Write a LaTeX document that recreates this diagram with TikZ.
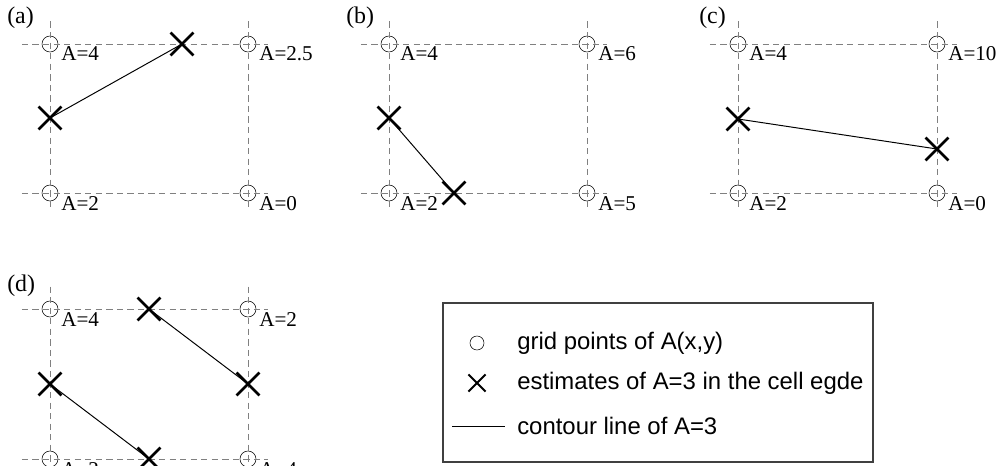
\documentclass[tikz,border=0pt]{standalone}
\usepackage{fontspec}
\setmainfont{Liberation Serif}
\newfontfamily\legendfont{Liberation Sans}
\usetikzlibrary{shapes.misc,positioning}

\begin{document}
\begin{tikzpicture}[
  x=0.025cm, y=-0.025cm,
  gpt/.style={circle, draw, thin, minimum size=0.4cm, inner sep=0pt},
  est/.style={cross out, draw, line width=2pt, minimum size=0.5cm, inner sep=0pt},
  gridline/.style={dashed, dash pattern=on 4.5pt off 3pt, black!50, line width=0.6pt},
  contour/.style={black, line width=0.7pt},
  val/.style={inner sep=0pt, anchor=base west, font=\fontsize{15}{17}\selectfont},
  panel/.style={inner sep=0pt, anchor=base west, font=\fontsize{17}{20}\selectfont},
  legtxt/.style={inner sep=0pt, anchor=west, font=\legendfont\fontsize{17}{20}\selectfont},
  legbox/.style={draw=black!75, line width=0.8pt}
]
\useasboundingbox (0,0) rectangle (1001,466);

% (a)
\node[panel] (la) at (7,24) {(a)};
\node[gpt] (a1) at (50,44)  {};
\node[gpt] (a2) at (248,44) {};
\node[gpt] (a3) at (50,193) {};
\node[gpt] (a4) at (248,193) {};
\draw[gridline, shorten <=-20, shorten >=-14] (a1.center) -- (a2.center);
\draw[gridline, shorten <=-20, shorten >=-14] (a3.center) -- (a4.center);
\draw[gridline, shorten <=-16, shorten >=-12] (a1.center) -- (a3.center);
\draw[gridline, shorten <=-16, shorten >=-12] (a2.center) -- (a4.center);
\node[val] at ([shift={(11,17)}]a1.center) {A=4};
\node[val] at ([shift={(11,17)}]a2.center) {A=2.5};
\node[val] at ([shift={(11,17)}]a3.center) {A=2};
\node[val] at ([shift={(11,17)}]a4.center) {A=0};
\node[est] (ea1) at (50,118) {};
\node[est] (ea2) at (182,44) {};
\draw[contour] (ea1.center) -- (ea2.center);

% (b)
\node[panel] (lb) at (346,24) {(b)};
\node[gpt] (b1) at (389,44)  {};
\node[gpt] (b2) at (587,44)  {};
\node[gpt] (b3) at (389,193) {};
\node[gpt] (b4) at (587,193) {};
\draw[gridline, shorten <=-20, shorten >=-14] (b1.center) -- (b2.center);
\draw[gridline, shorten <=-20, shorten >=-14] (b3.center) -- (b4.center);
\draw[gridline, shorten <=-16, shorten >=-12] (b1.center) -- (b3.center);
\draw[gridline, shorten <=-16, shorten >=-12] (b2.center) -- (b4.center);
\node[val] at ([shift={(11,17)}]b1.center) {A=4};
\node[val] at ([shift={(11,17)}]b2.center) {A=6};
\node[val] at ([shift={(11,17)}]b3.center) {A=2};
\node[val] at ([shift={(11,17)}]b4.center) {A=5};
\node[est] (eb1) at (389,118) {};
\node[est] (eb2) at (454,193) {};
\draw[contour] (eb1.center) -- (eb2.center);

% (c)
\node[panel] (lc) at (699,24) {(c)};
\node[gpt] (c1) at (738,44)  {};
\node[gpt] (c2) at (937,44)  {};
\node[gpt] (c3) at (738,193) {};
\node[gpt] (c4) at (937,193) {};
\draw[gridline, shorten <=-20, shorten >=-14] (c1.center) -- (c2.center);
\draw[gridline, shorten <=-20, shorten >=-14] (c3.center) -- (c4.center);
\draw[gridline, shorten <=-16, shorten >=-12] (c1.center) -- (c3.center);
\draw[gridline, shorten <=-16, shorten >=-12] (c2.center) -- (c4.center);
\node[val] at ([shift={(11,17)}]c1.center) {A=4};
\node[val] at ([shift={(11,17)}]c2.center) {A=10};
\node[val] at ([shift={(11,17)}]c3.center) {A=2};
\node[val] at ([shift={(11,17)}]c4.center) {A=0};
\node[est] (ec1) at (738,119) {};
\node[est] (ec2) at (937,149) {};
\draw[contour] (ec1.center) -- (ec2.center);

% (d)
\node[panel] (ld) at (7,291) {(d)};
\node[gpt] (d1) at (50,309)  {};
\node[gpt] (d2) at (248,309) {};
\node[gpt] (d3) at (50,459)  {};
\node[gpt] (d4) at (248,459) {};
\draw[gridline, shorten <=-20, shorten >=-14] (d1.center) -- (d2.center);
\draw[gridline, shorten <=-20, shorten >=-14] (d3.center) -- (d4.center);
\draw[gridline, shorten <=-16, shorten >=-12] (d1.center) -- (d3.center);
\draw[gridline, shorten <=-16, shorten >=-12] (d2.center) -- (d4.center);
\node[val] at ([shift={(11,17)}]d1.center) {A=4};
\node[val] at ([shift={(11,17)}]d2.center) {A=2};
\node[val] at ([shift={(11,17)}]d3.center) {A=2};
\node[val] at ([shift={(11,17)}]d4.center) {A=4};
\node[est] (ed1) at (149,309) {};
\node[est] (ed2) at (248,384) {};
\node[est] (ed3) at (50,384)  {};
\node[est] (ed4) at (149,459) {};
\draw[contour] (ed1.center) -- (ed2.center);
\draw[contour] (ed3.center) -- (ed4.center);

% legend
\draw[legbox] (443,303) rectangle (873,462);
\node[gpt, minimum size=0.35cm] (kgpt) at (477,343) {};
\node[legtxt] (tgpt) at (517,343) {grid points of A(x,y)};
\node[est, line width=1.4pt, minimum size=0.38cm] (kest) at (477,383) {};
\node[legtxt] (test) at (517,383) {estimates of A=3 in the cell egde};
\coordinate (kl1) at (452,426);
\coordinate (kl2) at (505,426);
\draw[contour] (kl1) -- (kl2);
\node[legtxt] (tcon) at (517,426) {contour line of A=3};
\end{tikzpicture}
\end{document}
